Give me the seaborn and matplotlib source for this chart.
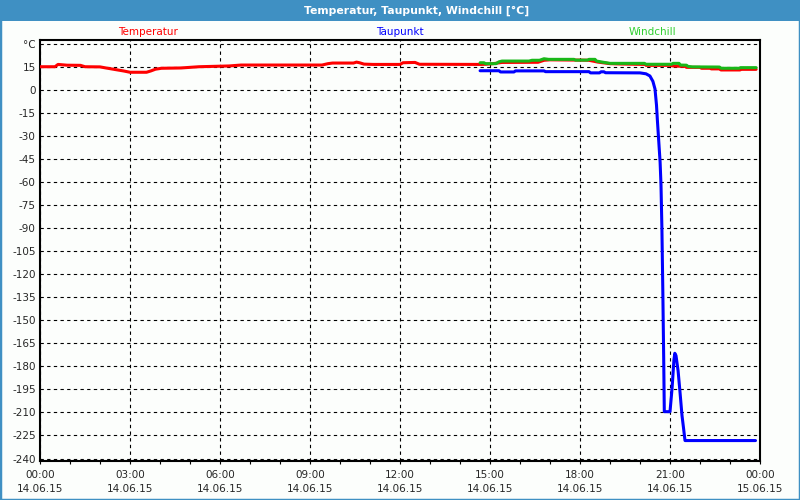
import matplotlib
matplotlib.use("Agg")
import matplotlib.pyplot as plt
import seaborn as sns
import pandas as pd
from matplotlib.patches import Rectangle
from matplotlib.ticker import FixedLocator

# ---------------- data ----------------
title = "Temperatur, Taupunkt, Windchill [°C]"
series_names = ["Temperatur", "Taupunkt", "Windchill"]

temp_hours = [0.0, 0.5, 0.6, 0.9, 1.35, 1.5, 2.0, 2.2, 2.5, 2.8, 3.0, 3.55, 3.7, 3.85,
              4.05, 4.7, 5.3, 6.3, 6.7, 9.4, 9.6, 9.75, 10.45, 10.55, 10.65, 10.8, 11.1,
              12.0, 12.1, 12.5, 12.65, 14.7, 14.85, 15.1, 15.4, 16.6, 16.8, 17.0, 18.0,
              18.3, 18.6, 19.0, 19.3, 20.17, 20.2, 21.0, 21.1, 21.5, 21.55, 22.0, 22.05,
              22.33, 22.38, 22.67, 22.7, 23.33, 23.38, 23.87]
temp_values = [15.0, 15.0, 16.5, 16.0, 15.9, 15.0, 14.9, 14.2, 13.2, 12.2, 11.4, 11.4, 12.3, 13.4,
               14.0, 14.2, 15.0, 15.5, 16.1, 16.1, 17.0, 17.4, 17.4, 18.0, 17.6, 16.7, 16.5,
               16.5, 17.6, 17.8, 16.6, 16.5, 16.6, 17.0, 17.8, 17.9, 19.2, 19.5, 19.3,
               19.2, 18.0, 17.0, 16.8, 16.5, 15.9, 15.9, 15.5, 15.2, 14.6, 14.6, 14.0,
               14.0, 13.6, 13.6, 12.9, 12.9, 13.3, 13.3]

dew_hours = [14.67, 15.3, 15.35, 15.8, 15.85, 16.8, 16.85, 18.3, 18.35, 18.65, 18.7, 18.8,
             18.85, 20.0, 20.2, 20.33, 20.43, 20.5, 20.55, 20.58, 20.62, 20.67, 20.7, 20.73,
             20.76, 20.79, 20.81, 21.0, 21.07, 21.13, 21.16, 21.2, 21.27, 21.33, 21.4,
             21.45, 21.5, 23.85]
dew_values = [12.4, 12.4, 11.6, 11.6, 12.3, 12.3, 11.8, 11.8, 11.0, 11.0, 11.7, 11.7,
              11.1, 11.0, 10.4, 9.0, 5.5, 0.5, -10.0, -20.0, -32.0, -47.0, -62.0, -90.0,
              -130.0, -175.0, -209.5, -209.5, -194.0, -176.0, -171.5, -173.0, -183.0, -196.0,
              -212.0, -220.0, -228.3, -228.3]

wc_hours = [14.67, 14.8, 14.85, 15.2, 15.3, 15.4, 16.3, 16.4, 16.65, 16.8, 16.95, 17.8,
            17.85, 18.25, 18.3, 18.5, 18.55, 18.75, 19.0, 20.15, 20.2, 21.05, 21.1, 21.3,
            21.35, 21.55, 21.6, 21.75, 22.65, 22.7, 23.3, 23.35, 23.87]
wc_values = [17.6, 17.6, 17.0, 17.0, 18.2, 18.7, 18.7, 19.2, 19.2, 20.2, 19.8, 19.8,
             19.3, 19.3, 19.8, 19.8, 18.7, 18.0, 17.2, 17.2, 16.6, 16.6, 17.2, 17.2,
             16.1, 16.0, 15.2, 14.9, 14.8, 14.0, 14.0, 14.4, 14.4]

x_tick_hours = [0, 3, 6, 9, 12, 15, 18, 21, 24]
x_tick_labels = ["00:00\n14.06.15", "03:00\n14.06.15", "06:00\n14.06.15",
                 "09:00\n14.06.15", "12:00\n14.06.15", "15:00\n14.06.15",
                 "18:00\n14.06.15", "21:00\n14.06.15", "00:00\n15.06.15"]
y_ticks = [30, 15, 0, -15, -30, -45, -60, -75, -90, -105, -120, -135, -150, -165,
           -180, -195, -210, -225, -240]
y_tick_labels = ["°C"] + [str(v) for v in y_ticks[1:]]

# ---------------- style ----------------
sns.set_style("white")
plt.rcParams["font.family"] = ["DejaVu Sans"]
plt.rcParams["axes.unicode_minus"] = False

bg = "#fcfefc"
bar_blue = "#3f90c3"
c_temp = "#ff0000"
c_dew = "#0000ff"
c_wc = "#18b818"

fig = plt.figure(figsize=(8, 5), dpi=100, facecolor=bg)
ax = fig.add_axes([0.05, 0.078, 0.90, 0.842])
ax.set_facecolor(bg)

df_t = pd.DataFrame({"h": temp_hours, "v": temp_values})
df_d = pd.DataFrame({"h": dew_hours, "v": dew_values})
df_w = pd.DataFrame({"h": wc_hours, "v": wc_values})

lw = 2.2
sns.lineplot(data=df_t, x="h", y="v", color=c_temp, linewidth=lw, ax=ax,
             estimator=None, sort=False, legend=False, zorder=3)
sns.lineplot(data=df_d, x="h", y="v", color=c_dew, linewidth=lw, ax=ax,
             estimator=None, sort=False, legend=False, zorder=3)
sns.lineplot(data=df_w, x="h", y="v", color=c_wc, linewidth=lw, ax=ax,
             estimator=None, sort=False, legend=False, zorder=4)

ax.set_xlim(0, 24)
ax.set_ylim(-241.6, 32.4)
ax.set_xlabel("")
ax.set_ylabel("")

ax.set_xticks(x_tick_hours)
ax.set_xticklabels(x_tick_labels, fontsize=7.5, linespacing=1.55)
ax.xaxis.set_minor_locator(FixedLocator(list(range(0, 25))))
ax.set_yticks(y_ticks)
ax.set_yticklabels(y_tick_labels, fontsize=7.5)

ax.tick_params(axis="x", which="both", direction="out", length=2.5, width=0.8,
               color="black", pad=4, bottom=True)
ax.tick_params(axis="y", which="both", length=0, pad=3, left=False)

ax.grid(True, which="major", axis="both", color="black", linewidth=0.8,
        linestyle=(0, (3, 3)), zorder=1)
ax.set_axisbelow(True)

for s in ax.spines.values():
    s.set_visible(True)
    s.set_color("black")
    s.set_linewidth(1.5)

# series labels above the plot
label_x = [148 / 800, 400 / 800, 652 / 800]
for name, col, xx in zip(series_names, [c_temp, c_dew, "#30d030"], label_x):
    fig.text(xx, 1 - 32 / 500, name, color=col, fontsize=7.5,
             ha="center", va="center")

# title bar and window frame
fig.patches.append(Rectangle((0, 1 - 21 / 500), 1, 21 / 500, transform=fig.transFigure,
                             facecolor=bar_blue, edgecolor="none", zorder=0))
fig.patches.append(Rectangle((0, 0), 1, 1, transform=fig.transFigure, fill=False,
                             edgecolor=bar_blue, linewidth=2.5, zorder=5))
fig.text(417 / 800, 1 - 10.5 / 500, title, color="white", fontsize=7.8, fontweight="bold",
         ha="center", va="center")

fig.savefig("out.png", dpi=100, facecolor=bg)
